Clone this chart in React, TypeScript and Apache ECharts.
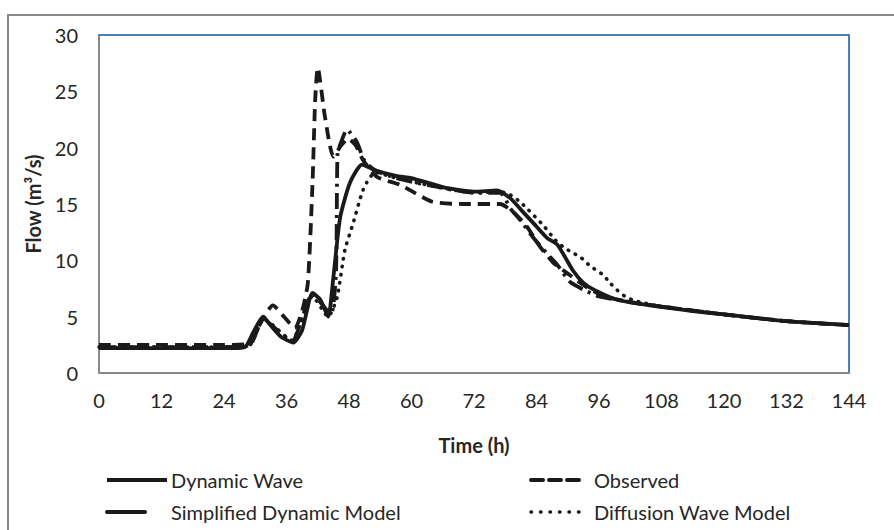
import React, { useEffect, useRef } from "react";
import * as echarts from "echarts";

const xTicks = [0, 12, 24, 36, 48, 60, 72, 84, 96, 108, 120, 132, 144];
const yTicks = [0, 5, 10, 15, 20, 25, 30];

const seriesNames = ["Dynamic Wave", "Observed", "Simplified Dynamic Model", "Diffusion Wave Model"];

const dynT = [0, 6, 12, 18, 24, 28, 29.5, 31.5, 33, 35, 37.3, 39, 41, 42.5, 44, 45, 46.3, 48.2, 50.5, 53, 57, 60, 66, 72, 76.4, 79, 81, 83.4, 86, 88, 91, 93, 95, 99.5, 105.8, 114, 120, 132, 144];
const dynQ = [2.2, 2.2, 2.2, 2.2, 2.2, 2.3, 3.5, 5.0, 4.2, 3.2, 2.7, 3.8, 7.1, 6.5, 5.0, 8.5, 13.8, 16.9, 18.5, 18.0, 17.5, 17.3, 16.5, 16.1, 16.2, 15.5, 14.5, 13.3, 12.0, 11.4, 9.1, 8.0, 7.4, 6.5, 6.0, 5.5, 5.2, 4.6, 4.25];

const obsT = [0, 12, 24, 29, 30.5, 33.4, 35.5, 37.6, 39, 40.1, 41, 41.5, 42, 43.4, 45, 46.5, 47.8, 49.3, 50.7, 53.4, 57.8, 64, 70, 77, 79.5, 82, 84.7, 87.2, 89.8, 93.7, 97, 102, 108, 120, 132, 144];
const obsQ = [2.5, 2.5, 2.5, 2.6, 4.0, 6.0, 5.0, 4.0, 5.5, 8.0, 16.9, 24.2, 27.1, 22.7, 19.2, 20.2, 20.8, 20.2, 18.9, 17.4, 16.7, 15.2, 15.0, 15.0, 14.3, 13.1, 11.2, 9.8, 8.9, 7.6, 6.8, 6.3, 5.9, 5.2, 4.6, 4.25];

const simT = [0, 12, 24, 29, 31.5, 33, 37, 41, 44.5, 45.5, 45.8, 46.5, 47.6, 49.5, 51, 53, 57, 64, 72, 77, 79, 81, 83.4, 86, 88, 90.4, 93, 96, 102, 108, 120, 132, 144];
const simQ = [2.3, 2.3, 2.3, 2.5, 4.8, 4.3, 2.8, 7.0, 5.2, 9.0, 19.5, 20.5, 21.6, 20.5, 18.8, 18.0, 17.3, 16.6, 16.0, 16.0, 14.6, 13.5, 12.0, 10.6, 9.6, 8.1, 7.4, 6.8, 6.3, 5.9, 5.2, 4.6, 4.25];

const difT = [0, 12, 24, 29, 31.5, 33, 37, 41, 44, 45.7, 47.2, 48.8, 50.5, 51.4, 53, 57, 64, 72, 77, 79, 80.8, 82.4, 85.3, 87.6, 89.1, 90.8, 92.4, 94.3, 96.8, 98.1, 99.4, 101, 103, 108, 120, 132, 144];
const difQ = [2.3, 2.3, 2.3, 2.5, 4.8, 4.4, 2.9, 6.8, 5.0, 6.7, 10.9, 13.3, 16.0, 16.9, 17.8, 17.3, 16.6, 16.0, 16.1, 15.8, 15.2, 14.5, 13.1, 11.8, 11.2, 10.7, 10.3, 9.5, 8.7, 8.0, 7.4, 6.8, 6.4, 5.9, 5.2, 4.6, 4.25];

const pair = (t: number[], q: number[]) => t.map((v, i) => [v, q[i]]);

const FONT = "Lato, Carlito, Calibri, sans-serif";
const INK = "#1a1a1a";
const TXT = "#262626";
const GRAY = "#898989";
const BLUE = "#4a7ebb";

export default function App() {
  const ref = useRef<HTMLDivElement>(null);
  useEffect(() => {
    if (!ref.current) return;
    const chart = echarts.init(ref.current, undefined, { renderer: "svg" });
    const lw = 3.8;
    const legendText = (x: number, y: number, text: string) => ({
      type: "text",
      x,
      y,
      style: { text, font: `20px ${FONT}`, fill: TXT, textVerticalAlign: "middle" },
    });
    const legendLine = (x1: number, x2: number, y: number, dash: any, cap: string, width: number) => ({
      type: "line",
      shape: { x1, y1: y, x2, y2: y },
      style: { stroke: INK, lineWidth: width, lineDash: dash, lineCap: cap },
    });
    chart.setOption({
      animation: false,
      backgroundColor: "#ffffff",
      grid: { left: 99, top: 35, width: 750, height: 338, containLabel: false },
      xAxis: [
        {
          type: "value",
          min: 0,
          max: 144,
          interval: 12,
          axisLine: { show: true, lineStyle: { color: GRAY, width: 2 } },
          axisTick: { show: false },
          splitLine: { show: false },
          axisLabel: {
            margin: 17,
            fontFamily: FONT,
            fontSize: 20,
            color: TXT,
            formatter: (v: number) => (xTicks.includes(v) ? String(v) : ""),
          },
          name: "Time (h)",
          nameLocation: "middle",
          nameGap: 62,
          nameTextStyle: { fontFamily: FONT, fontSize: 20, fontWeight: "bold", color: TXT },
        },
        {
          type: "value",
          position: "top",
          min: 0,
          max: 144,
          axisLine: { show: true, onZero: false, lineStyle: { color: BLUE, width: 2 } },
          axisTick: { show: false },
          axisLabel: { show: false },
          splitLine: { show: false },
        },
      ],
      yAxis: [
        {
          type: "value",
          min: 0,
          max: 30,
          interval: 5,
          axisLine: { show: true, lineStyle: { color: GRAY, width: 2 } },
          axisTick: { show: false },
          splitLine: { show: false },
          axisLabel: {
            margin: 21,
            fontFamily: FONT,
            fontSize: 20,
            color: TXT,
            formatter: (v: number) => (yTicks.includes(v) ? String(v) : ""),
          },
          name: "Flow (m³/s)",
          nameLocation: "middle",
          nameGap: 56,
          nameTextStyle: { fontFamily: FONT, fontSize: 20, fontWeight: "bold", color: TXT },
        },
        {
          type: "value",
          position: "right",
          min: 0,
          max: 30,
          axisLine: { show: true, onZero: false, lineStyle: { color: BLUE, width: 2 } },
          axisTick: { show: false },
          axisLabel: { show: false },
          splitLine: { show: false },
        },
      ],
      series: [
        {
          name: seriesNames[2],
          type: "line",
          data: pair(simT, simQ),
          showSymbol: false,
          smooth: 0.2,
          lineStyle: { color: INK, width: lw, type: [16, 6, 3, 6] },
          z: 3,
        },
        {
          name: seriesNames[3],
          type: "line",
          data: pair(difT, difQ),
          showSymbol: false,
          smooth: 0.2,
          lineStyle: { color: INK, width: 3.6, type: [0.5, 7.5], cap: "round" },
          z: 3,
        },
        {
          name: seriesNames[1],
          type: "line",
          data: pair(obsT, obsQ),
          showSymbol: false,
          smooth: 0.2,
          lineStyle: { color: INK, width: lw, type: [12, 7] },
          z: 4,
        },
        {
          name: seriesNames[0],
          type: "line",
          data: pair(dynT, dynQ),
          showSymbol: false,
          smooth: 0.2,
          lineStyle: { color: INK, width: lw, type: "solid" },
          z: 5,
        },
      ],
      graphic: [
        {
          type: "rect",
          shape: { x: 8, y: 15, width: 900, height: 530 },
          style: { fill: "none", stroke: GRAY, lineWidth: 2 },
          silent: true,
          z: -10,
        },
        legendLine(107, 167, 480, null, "butt", 4),
        legendText(171, 480, seriesNames[0]),
        legendLine(107, 145, 512, null, "round", 4),
        legendText(171, 512, seriesNames[2]),
        legendLine(531, 584, 480, [12, 6], "round", 4),
        legendText(594, 480, seriesNames[1]),
        legendLine(531, 584, 512, [0.5, 9], "round", 3.5),
        legendText(594, 512, seriesNames[3]),
      ],
    });
    return () => chart.dispose();
  }, []);
  return (
    <div
      ref={ref}
      style={{ position: "fixed", left: 0, top: 0, width: 894, height: 530, background: "#fff" }}
    />
  );
}
